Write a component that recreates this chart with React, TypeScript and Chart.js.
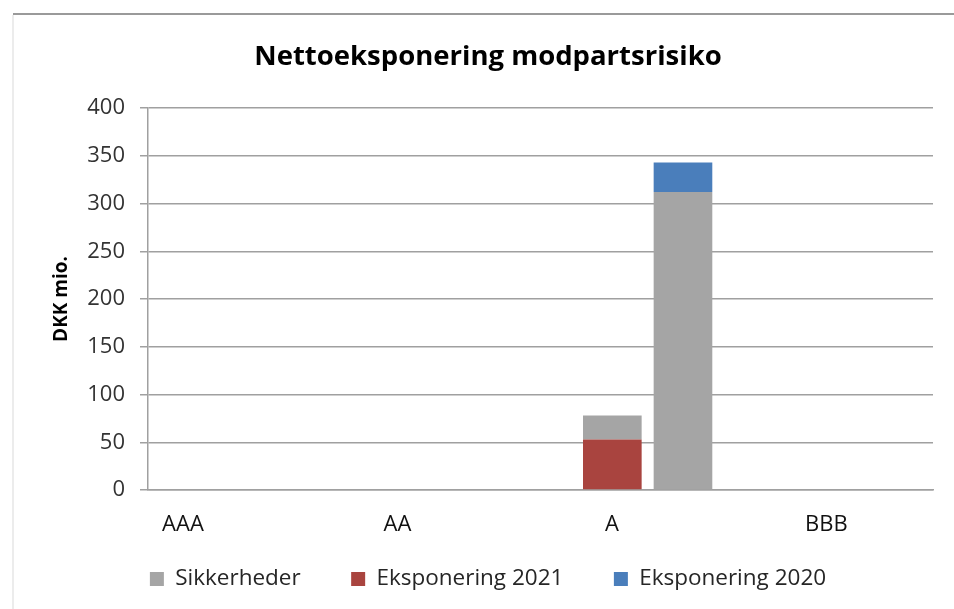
import React, { useEffect, useRef } from 'react';
import { Chart, registerables } from 'chart.js';

Chart.register(...registerables);

const chartTitle = 'Nettoeksponering modpartsrisiko';
const yAxisTitle = 'DKK mio.';
const categories = ['AAA', 'AA', 'A', 'BBB'];
const eksponering2021 = [0, 0, 53, 0];
const sikkerheder2021 = [0, 0, 25, 0];
const sikkerheder2020 = [0, 0, 312, 0];
const eksponering2020 = [0, 0, 31, 0];
const yMin = 0;
const yMax = 400;
const yStep = 50;

const GRAY = '#a5a5a5';
const RED = '#a9443f';
const BLUE = '#4a7ebb';
const GRID = '#a0a0a0';
const FONT = "'Open Sans', sans-serif";

const toPoints = (vals: number[]) => vals.map((v, i) => ({ x: i, y: v }));

export default function App() {
  const ref = useRef<HTMLCanvasElement>(null);

  useEffect(() => {
    const legendRank: Record<number, number> = { 1: 0, 0: 1, 3: 2 };
    const categoryTicks = (s: any) => {
      s.ticks = categories.map((_, i) => ({ value: i }));
    };
    const chart = new Chart(ref.current as HTMLCanvasElement, {
      type: 'bar',
      data: {
        datasets: [
          { label: 'Eksponering 2021', data: toPoints(eksponering2021), backgroundColor: RED, stack: 's2021', borderWidth: 0 },
          { label: 'Sikkerheder', data: toPoints(sikkerheder2021), backgroundColor: GRAY, stack: 's2021', borderWidth: 0 },
          { label: 'Sikkerheder', data: toPoints(sikkerheder2020), backgroundColor: GRAY, stack: 's2020', borderWidth: 0 },
          { label: 'Eksponering 2020', data: toPoints(eksponering2020), backgroundColor: BLUE, stack: 's2020', borderWidth: 0 },
        ] as any,
      },
      options: {
        responsive: false,
        animation: false,
        layout: { padding: { left: 30, right: 28, top: 10, bottom: 8.75 } },
        datasets: { bar: { categoryPercentage: 0.72, barPercentage: 0.83 } } as any,
        scales: {
          x: {
            type: 'linear',
            display: false,
            stacked: true,
            offset: false,
            min: -0.546,
            max: 3.454,
            grid: { offset: false },
            afterBuildTicks: categoryTicks,
          } as any,
          x2: {
            type: 'linear',
            position: 'bottom',
            offset: false,
            min: -0.163,
            max: 3.497,
            grid: { display: false, drawTicks: false, offset: false },
            border: { display: true, color: GRID, width: 1.5 },
            ticks: {
              autoSkip: false,
              maxRotation: 0,
              padding: 21.8,
              color: '#111',
              font: { family: FONT, size: 22 },
              callback: (v: any) => categories[Math.round(Number(v))] ?? '',
            },
            afterBuildTicks: categoryTicks,
            afterFit: (s: any) => {
              s.height = 27.25;
              s._computeLabelArea = () => undefined;
            },
          } as any,
          y: {
            stacked: true,
            min: yMin,
            max: yMax,
            ticks: {
              stepSize: yStep,
              padding: 15,
              color: '#333',
              font: { family: FONT, size: 22 },
            },
            grid: { color: GRID, lineWidth: 1.5, tickLength: 8, drawTicks: true },
            border: { display: true, color: GRID, width: 1.5 },
            title: {
              display: true,
              text: yAxisTitle,
              color: '#000',
              font: { family: FONT, size: 19, weight: 'bold' },
              padding: { top: 7.6, bottom: 0 },
            },
            afterFit: (s: any) => {
              s.width = 105;
            },
          },
        },
        plugins: {
          title: {
            display: true,
            text: chartTitle,
            color: '#000',
            font: { family: FONT, size: 27.5, weight: 'bold' },
            padding: { top: 16.5, bottom: 34.5 },
          },
          legend: {
            display: true,
            position: 'bottom',
            labels: {
              boxWidth: 14,
              boxHeight: 14,
              padding: 50.5,
              color: '#262626',
              font: { family: FONT, size: 22.5 },
              filter: (item: any) => item.datasetIndex !== 2,
              sort: (a: any, b: any) => legendRank[a.datasetIndex] - legendRank[b.datasetIndex],
            },
          },
          tooltip: { enabled: false },
        },
      },
    });
    return () => chart.destroy();
  }, []);

  return (
    <div style={{ position: 'fixed', left: 0, top: 0, width: 954, height: 609, overflow: 'hidden', background: '#fff' }}>
      <div style={{ position: 'absolute', left: 13, top: 13, width: 941, height: 2, background: '#9a9a9a' }} />
      <div style={{ position: 'absolute', left: 12, top: 15, width: 2, height: 594, background: '#ececec' }} />
      <canvas
        ref={ref}
        width={948}
        height={595}
        style={{ position: 'absolute', left: 13, top: 14, display: 'block' }}
      />
    </div>
  );
}
